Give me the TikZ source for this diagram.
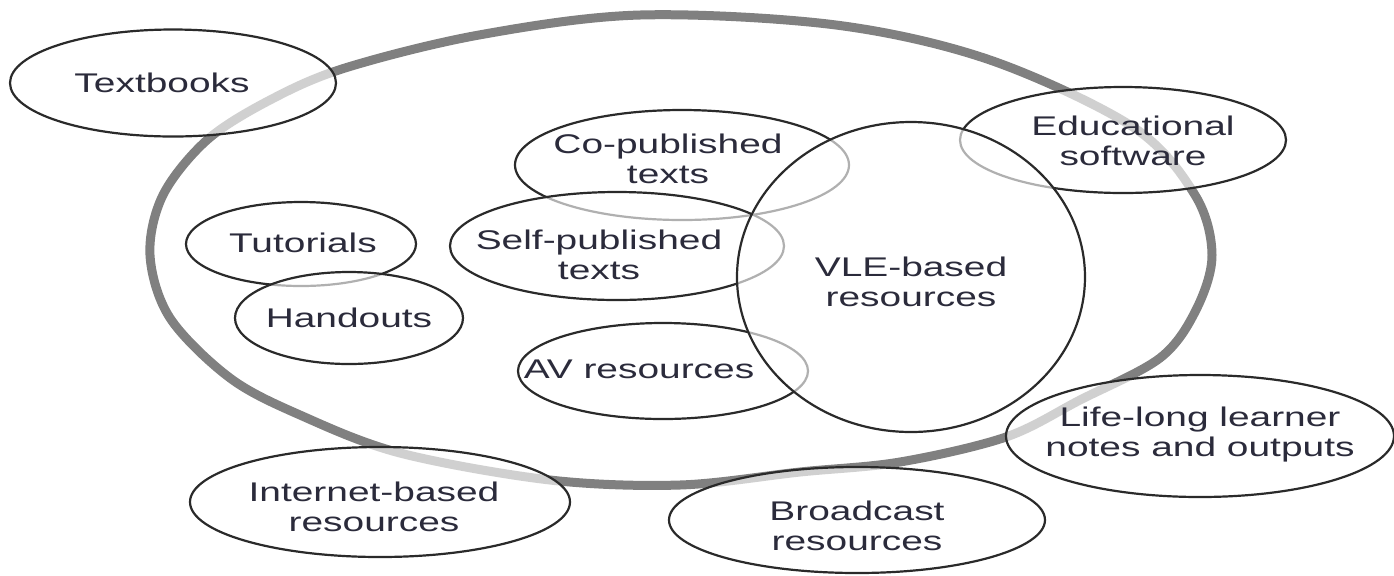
\documentclass[tikz,border=0pt]{standalone}
\usepackage{fontspec}
\setmainfont[FakeStretch=1.44]{Liberation Sans}
\definecolor{ringgray}{HTML}{808080}
\definecolor{edgecol}{HTML}{2A2A2A}
\definecolor{txtcol}{HTML}{2B2B3B}
\begin{document}
\begin{tikzpicture}[x=0.5pt,y=-0.5pt,
  ringline/.style={draw=ringgray, line width=4.5pt},
  bubble/.style={draw=edgecol, line width=1.1pt, fill=white, fill opacity=0.63},
  lbl/.style={text=txtcol, font=\fontsize{13.5}{15}\selectfont, align=center, inner sep=0pt}
]
\useasboundingbox (0,0) rectangle (1394,575);
% big ring
\draw[ringline] plot[smooth cycle, tension=0.55] coordinates {
  (150,255) (163,195) (207,140) (270,100) (345,68) (479,35) (640,15)
  (836,25) (990,60) (1133,127) (1195,195) (1212,255) (1196,310)
  (1160,358) (1080,400) (1006,437) (900,462) (800,472) (680,485)
  (550,480) (400,453) (300,415) (230,378) (170,318)};
% outer bubbles
\draw[bubble] (173,83) ellipse [x radius=163, y radius=53.5];
\draw[bubble] (380,502) ellipse [x radius=190, y radius=55];
\draw[bubble] (857,520) ellipse [x radius=188, y radius=53];
\draw[bubble] (1200,436) ellipse [x radius=194, y radius=61];
% inner bubbles
\draw[bubble] (301,244) ellipse [x radius=115, y radius=42];
\draw[bubble] (349,318) ellipse [x radius=114, y radius=46];
\draw[bubble] (682,165) ellipse [x radius=167, y radius=55];
\draw[bubble] (617,246) ellipse [x radius=167, y radius=54];
\draw[bubble] (663,371) ellipse [x radius=145, y radius=48];
\draw[bubble] (1123,140) ellipse [x radius=163, y radius=53];
\draw[bubble] (911,277) ellipse [x radius=174, y radius=155];
% labels
\node[lbl] (textbooks) at (162,83) {Textbooks};
\node[lbl] (copub) at (668,159) {Co-published\\texts};
\node[lbl] (selfpub) at (599,255) {Self-published\\texts};
\node[lbl] (tutorials) at (303,243) {Tutorials};
\node[lbl] (handouts) at (349,318) {Handouts};
\node[lbl] (av) at (639,369) {AV resources};
\node[lbl] (vle) at (911,282) {VLE-based\\resources};
\node[lbl] (edu) at (1133,141) {Educational\\software};
\node[lbl] (life) at (1200,435) {Life-long learner\\notes and outputs};
\node[lbl] (broad) at (857,526) {Broadcast\\resources};
\node[lbl] (inet) at (374,507) {Internet-based\\resources};
\end{tikzpicture}
\end{document}
